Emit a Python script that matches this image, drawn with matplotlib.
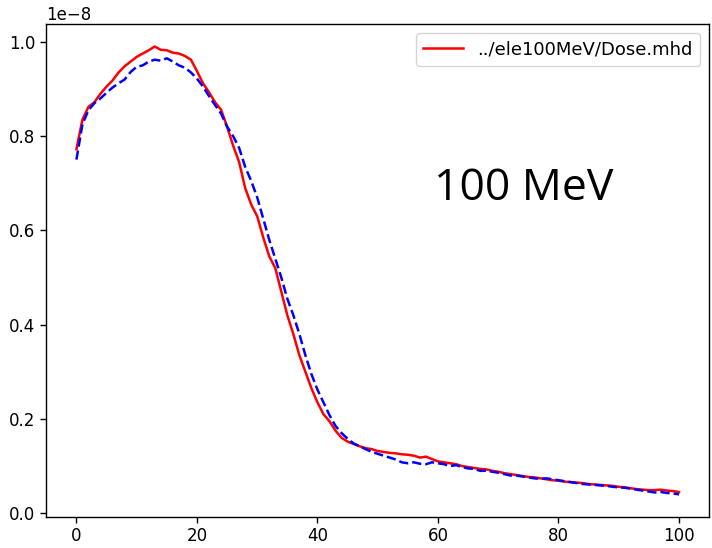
import numpy as np
import matplotlib
matplotlib.use('Agg')
import matplotlib.pyplot as plt

# depth positions and dose values (units of 1e-8)
depth = np.arange(0, 101, 1)

dose_red = [0.772, 0.835, 0.862, 0.872, 0.890, 0.905, 0.918, 0.935, 0.948, 0.958,
            0.968, 0.975, 0.982, 0.990, 0.983, 0.982, 0.977, 0.975, 0.970, 0.962,
            0.938, 0.912, 0.893, 0.872, 0.856, 0.820, 0.780, 0.745, 0.690, 0.655,
            0.630, 0.585, 0.545, 0.520, 0.470, 0.420, 0.380, 0.335, 0.300, 0.265,
            0.235, 0.210, 0.195, 0.175, 0.160, 0.152, 0.147, 0.142, 0.138, 0.136,
            0.132, 0.130, 0.128, 0.127, 0.125, 0.124, 0.122, 0.118, 0.120, 0.115,
            0.110, 0.108, 0.106, 0.104, 0.100, 0.098, 0.096, 0.094, 0.093, 0.090,
            0.088, 0.085, 0.083, 0.081, 0.079, 0.077, 0.076, 0.074, 0.072, 0.070,
            0.069, 0.067, 0.066, 0.065, 0.064, 0.062, 0.061, 0.060, 0.059, 0.058,
            0.056, 0.055, 0.053, 0.051, 0.050, 0.049, 0.049, 0.050, 0.048, 0.047,
            0.045]

dose_blue = [0.750, 0.825, 0.855, 0.870, 0.880, 0.892, 0.903, 0.912, 0.920, 0.936,
             0.947, 0.950, 0.958, 0.962, 0.960, 0.965, 0.958, 0.950, 0.945, 0.935,
             0.922, 0.905, 0.885, 0.866, 0.848, 0.820, 0.800, 0.775, 0.735, 0.705,
             0.670, 0.625, 0.580, 0.540, 0.500, 0.455, 0.420, 0.380, 0.335, 0.295,
             0.262, 0.235, 0.208, 0.185, 0.170, 0.158, 0.148, 0.142, 0.136, 0.130,
             0.126, 0.122, 0.118, 0.114, 0.108, 0.106, 0.108, 0.105, 0.104, 0.108,
             0.106, 0.104, 0.100, 0.102, 0.098, 0.095, 0.094, 0.090, 0.090, 0.088,
             0.086, 0.083, 0.080, 0.080, 0.078, 0.076, 0.074, 0.073, 0.074, 0.072,
             0.070, 0.068, 0.066, 0.064, 0.062, 0.061, 0.060, 0.059, 0.058, 0.056,
             0.055, 0.054, 0.052, 0.050, 0.048, 0.046, 0.044, 0.045, 0.043, 0.042,
             0.040]

label_red = '../ele100MeV/Dose.mhd'
energy_text = '100 MeV'

plt.rcParams['font.size'] = 12

fig = plt.figure(figsize=(7.12, 5.48), dpi=100)
ax = fig.add_subplot(111)
fig.subplots_adjust(left=0.065, right=0.996, bottom=0.057, top=0.956)

ax.plot(depth, np.array(dose_red) * 1e-8, 'r-', lw=1.8, label=label_red)
ax.plot(depth, np.array(dose_blue) * 1e-8, 'b--', lw=1.8)

ax.legend(loc='upper right', fontsize=13, handlelength=2.2)
ax.text(0.72, 0.665, energy_text, transform=ax.transAxes, ha='center', va='center',
        fontsize=32, family='Open Sans')

for s in ax.spines.values():
    s.set_linewidth(1.0)
ax.tick_params(length=4.2, width=1.0)

fig.savefig('out.png', dpi=100)
